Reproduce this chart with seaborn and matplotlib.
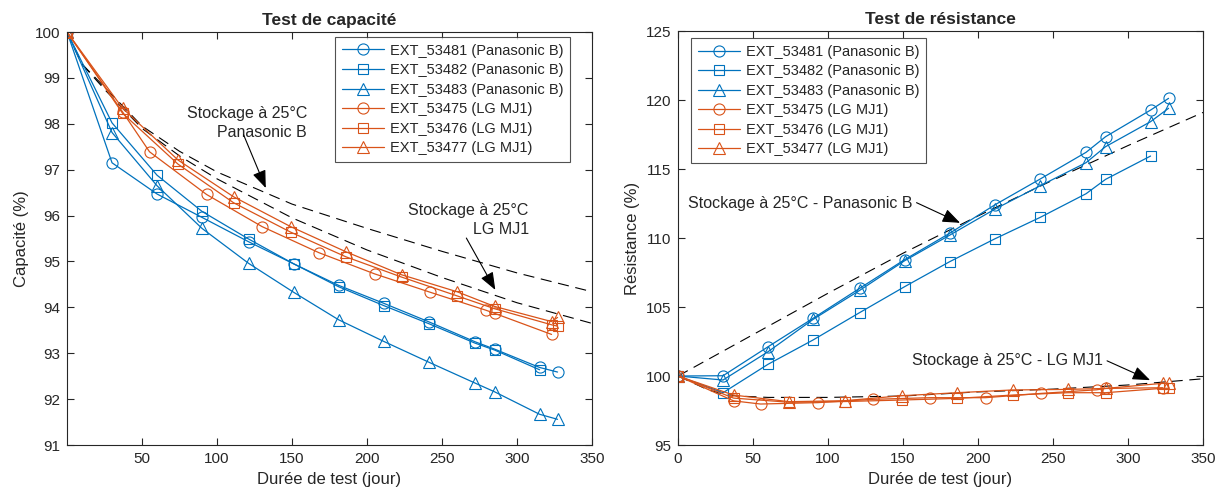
#%% Packages
import numpy as np
import pandas as pd
import matplotlib
matplotlib.use("Agg")
import matplotlib.pyplot as plt
import seaborn as sns

#%% Data - capacite
days_pana = [0, 30, 60, 90, 121, 151, 181, 211, 241.5, 272, 285, 315, 327]
days_pana_sq = [0, 30, 60, 90, 121, 151, 181, 211, 241.5, 272, 285, 315]
days_lg_circ = [0, 37, 55, 93, 130, 168, 205, 242, 279, 285, 323]
days_lg = [0, 37, 74, 111, 149, 186, 223, 260, 285, 323, 327]

cap_53481 = [100, 97.15, 96.47, 95.96, 95.43, 94.95, 94.48, 94.09, 93.68, 93.25, 93.09, 92.69, 92.59]
cap_53482 = [100, 98.02, 96.88, 96.09, 95.49, 94.95, 94.45, 94.04, 93.64, 93.22, 93.07, 92.64]
cap_53483 = [100, 97.81, 96.65, 95.72, 94.96, 94.33, 93.73, 93.26, 92.80, 92.35, 92.16, 91.67, 91.56]
cap_53475 = [100, 98.26, 97.39, 96.46, 95.76, 95.19, 94.73, 94.33, 93.94, 93.87, 93.41]
cap_53476 = [100, 98.23, 97.12, 96.28, 95.64, 95.10, 94.66, 94.25, 93.97, 93.62, 93.59]
cap_53477 = [100, 98.34, 97.21, 96.41, 95.76, 95.21, 94.71, 94.34, 94.02, 93.69, 93.78]

# modele de stockage a 25 C
model_days = [0, 10, 25, 50, 75, 100, 150, 200, 250, 300, 350]
cap_model_pana = [100, 99.3, 98.8, 97.95, 97.4, 96.95, 96.25, 95.72, 95.22, 94.75, 94.34]
cap_model_lg = [100, 99.3, 98.75, 97.9, 97.3, 96.8, 95.95, 95.25, 94.65, 94.1, 93.65]

#%% Data - resistance
res_53481 = [100, 100.02, 102.12, 104.18, 106.35, 108.43, 110.34, 112.39, 114.28, 116.21, 117.34, 119.27, 120.12]
res_53482 = [100, 98.79, 100.85, 102.61, 104.59, 106.47, 108.28, 109.93, 111.5, 113.21, 114.25, 115.94]
res_53483 = [100, 99.71, 101.76, 104.1, 106.2, 108.35, 110.2, 112.08, 113.79, 115.46, 116.62, 118.43, 119.4]
res_53475 = [100, 98.2, 97.97, 98.07, 98.31, 98.43, 98.43, 98.74, 99.0, 99.1, 99.15]
res_53476 = [100, 98.4, 98.1, 98.15, 98.26, 98.38, 98.62, 98.79, 98.79, 99.11, 99.11]
res_53477 = [100, 98.62, 98.14, 98.21, 98.57, 98.79, 98.99, 99.03, 99.1, 99.47, 99.47]

res_model_days = [0, 10, 20, 30, 40, 60, 100, 150, 200, 250, 300, 350]
res_model_pana = [100, 100.6, 101.2, 101.8, 102.4, 103.6, 106.0, 108.9, 111.6, 114.2, 116.7, 119.1]
res_model_lg = [100, 99.5, 99.0, 98.7, 98.55, 98.45, 98.45, 98.55, 98.85, 99.05, 99.35, 99.8]

#%% Styles
BLUE = "#0072BD"
ORANGE = "#D95319"
TXT = "#262626"

series = [
    ("EXT_53481 (Panasonic B)", days_pana, cap_53481, res_53481, BLUE, "o"),
    ("EXT_53482 (Panasonic B)", days_pana_sq, cap_53482, res_53482, BLUE, "s"),
    ("EXT_53483 (Panasonic B)", days_pana, cap_53483, res_53483, BLUE, "^"),
    ("EXT_53475 (LG MJ1)", days_lg_circ, cap_53475, res_53475, ORANGE, "o"),
    ("EXT_53476 (LG MJ1)", days_lg, cap_53476, res_53476, ORANGE, "s"),
    ("EXT_53477 (LG MJ1)", days_lg, cap_53477, res_53477, ORANGE, "^"),
]

sns.set_theme(style="white")
plt.rcParams["font.family"] = ["Liberation Sans", "DejaVu Sans"]
plt.rcParams["axes.edgecolor"] = TXT
plt.rcParams["axes.linewidth"] = 0.8

fig = plt.figure(figsize=(12.23, 4.97), dpi=100)
ax1 = fig.add_axes([0.0548, 0.1046, 0.4293, 0.831])
ax2 = fig.add_axes([0.5544, 0.1046, 0.4293, 0.833])

#%% Plot curves
for label, d, cap, res, col, mk in series:
    ms = 7 if mk == "s" else 8
    for ax, vals in ((ax1, cap), (ax2, res)):
        sns.lineplot(x=d, y=vals, ax=ax, color=col, marker=mk, markersize=ms,
                     markerfacecolor="none", markeredgecolor=col, markeredgewidth=0.8,
                     linewidth=0.9, label=label, sort=False, estimator=None)

for ax, days, m1, m2 in ((ax1, model_days, cap_model_pana, cap_model_lg),
                         (ax2, res_model_days, res_model_pana, res_model_lg)):
    for m in (m1, m2):
        ax.plot(days, m, color="black", linestyle=(0, (10, 6)), linewidth=0.8, zorder=1)

#%% Axes formatting
def style_axes(ax, ylim, yticks, xticks):
    ax.set_xlim(0, 350)
    ax.set_ylim(*ylim)
    ax.set_xticks(xticks)
    ax.set_yticks(yticks)
    ax.tick_params(direction="in", length=5, width=0.8, labelsize=11, colors=TXT,
                   top=True, right=True, bottom=True, left=True, pad=5)
    for s in ax.spines.values():
        s.set_visible(True)
    ax.set_xlabel("Durée de test (jour)", fontsize=12, color=TXT)
    leg = ax.get_legend()
    if leg is not None:
        leg.remove()

style_axes(ax1, (91, 100), range(91, 101), range(50, 351, 50))
style_axes(ax2, (95, 125), range(95, 126, 5), range(0, 351, 50))
ax1.set_ylabel("Capacité (%)", fontsize=12, color=TXT)
ax2.set_ylabel("Résistance (%)", fontsize=12, color=TXT)
ax1.set_title("Test de capacité", fontsize=12.5, fontweight="bold", pad=5)
ax2.set_title("Test de résistance", fontsize=12.5, fontweight="bold", pad=5)

leg_kw = dict(fontsize=10.5, frameon=True, fancybox=False, edgecolor=TXT,
              handlelength=2.9, handletextpad=0.4, borderaxespad=0.0,
              labelspacing=0.38, borderpad=0.45)
h, l = ax1.get_legend_handles_labels()
lg1 = ax1.legend(h, l, loc="upper right", bbox_to_anchor=(0.958, 0.988), **leg_kw)
lg1.get_frame().set_linewidth(0.8)
h, l = ax2.get_legend_handles_labels()
lg2 = ax2.legend(h, l, loc="upper left", bbox_to_anchor=(0.025, 0.983), **leg_kw)
lg2.get_frame().set_linewidth(0.8)

#%% Annotations
arrow = dict(arrowstyle="-|>,head_length=0.9,head_width=0.35", color="black", lw=0.8,
             shrinkA=0, shrinkB=0)
ax1.text(160, 98.02, "Stockage à 25°C\nPanasonic B", ha="right", va="center",
         fontsize=11.5, color=TXT, linespacing=1.3)
ax1.annotate("", xy=(132.5, 96.6), xytext=(117.7, 97.76), arrowprops=arrow)
ax1.text(307.8, 95.9, "Stockage à 25°C\nLG MJ1", ha="right", va="center",
         fontsize=11.5, color=TXT, linespacing=1.3)
ax1.annotate("", xy=(285.5, 94.38), xytext=(266.2, 95.51), arrowprops=arrow)
ax2.text(6.5, 112.5, "Stockage à 25°C - Panasonic B", ha="left", va="center",
         fontsize=11.5, color=TXT)
ax2.annotate("", xy=(188, 111.1), xytext=(159, 112.56), arrowprops=arrow)
ax2.text(155.8, 101.1, "Stockage à 25°C - LG MJ1", ha="left", va="center",
         fontsize=11.5, color=TXT)
ax2.annotate("", xy=(314.7, 99.7), xytext=(286, 101.1), arrowprops=arrow)

fig.savefig("out.png", dpi=100)
